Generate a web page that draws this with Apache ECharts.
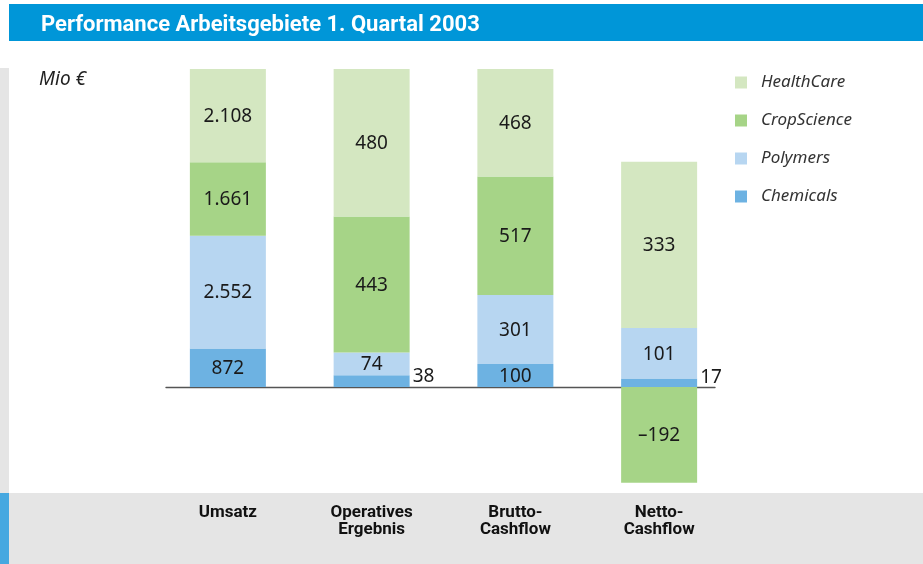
<!DOCTYPE html>
<html>
<head>
<meta charset="utf-8">
<title>Performance Arbeitsgebiete</title>
<script src="https://cdn.jsdelivr.net/npm/echarts@6/dist/echarts.min.js"></script>
<style>
  html, body { margin: 0; padding: 0; background: #fff; }
  #chart { width: 923px; height: 564px; }
</style>
</head>
<body>
<div id="chart"></div>
<script>
// Werte in Mio €
const categories = ['Umsatz', 'Operatives\nErgebnis', 'Brutto-\nCashflow', 'Netto-\nCashflow']
const chemicals = [872, 38, 100, 17]
const polymers = [2552, 74, 301, 101]
const cropScience = [1661, 443, 517, -192]
const healthCare = [2108, 480, 468, 333]
// jede Säule hat im Original ihren eigenen Maßstab (oberer Rand der Skala)
const scaleMax = [7193, 1035, 1386, 637]

const segments = [
  { name: 'Chemicals', data: chemicals, color: '#6db2e2' },
  { name: 'Polymers', data: polymers, color: '#b7d6f1' },
  { name: 'CropScience', data: cropScience, color: '#a6d487' },
  { name: 'HealthCare', data: healthCare, color: '#d4e7c1' }
]

const plotTop = 69
const plotHeight = 414
const belowRatio = 96 / 318 // Anteil unter der Nulllinie

const fmt = v => {
  const s = String(Math.abs(v)).replace(/\B(?=(\d{3})+(?!\d))/g, '.')
  return v < 0 ? '\u2013' + s : s
}

const chart = echarts.init(document.getElementById('chart'))

const grids = []
const xAxes = []
const yAxes = []
const series = []

categories.forEach((cat, i) => {
  grids.push({
    left: 156,
    right: 192,
    top: plotTop,
    height: plotHeight,
    outerBoundsMode: 'none'
  })
  xAxes.push({
    type: 'category',
    gridIndex: i,
    data: categories,
    show: false
  })
  const min = -scaleMax[i] * belowRatio
  yAxes.push({
    type: 'value',
    gridIndex: i,
    show: false,
    min: min,
    max: scaleMax[i],
    splitLine: { show: false }
  })
  segments.forEach(seg => {
    const v = seg.data[i]
    const px = Math.abs(v) / (scaleMax[i] - min) * plotHeight
    const small = px < 18
    series.push({
      name: seg.name,
      type: 'bar',
      stack: 'col' + i,
      xAxisIndex: i,
      yAxisIndex: i,
      barWidth: 76,
      itemStyle: { color: seg.color },
      label: {
        show: true,
        position: small ? 'right' : 'inside',
        distance: 3,
        offset: small ? [0, -5] : [0, 1],
        formatter: p => fmt(p.value),
        fontFamily: 'Noto Sans, sans-serif',
        fontSize: 19,
        color: '#1a1a1a'
      },
      emphasis: { disabled: true },
      data: categories.map((c, k) => (k === i ? v : '-'))
    })
  })
})

// Kategorienbeschriftung unten im grauen Band (eigene Achse am Gitterrand)
xAxes.push({
  type: 'category',
  gridIndex: 0,
  position: 'bottom',
  data: categories,
  axisLine: { show: false, onZero: false },
  axisTick: { show: false },
  axisLabel: {
    show: true,
    margin: 21,
    fontFamily: 'Roboto, sans-serif',
    fontWeight: 'bold',
    fontSize: 17,
    lineHeight: 17,
    color: '#111'
  }
})

// Nulllinie: etwas schmaleres Gitter, gleiche Lage der Null
grids.push({ left: 166, right: 208, top: plotTop, height: plotHeight, outerBoundsMode: 'none' })
xAxes.push({
  type: 'category',
  gridIndex: 4,
  data: categories,
  axisLine: { show: true, onZero: true, lineStyle: { color: '#555', width: 1.4 } },
  axisTick: { show: false },
  axisLabel: { show: false }
})
yAxes.push({ type: 'value', gridIndex: 4, show: false, min: -belowRatio, max: 1, splitLine: { show: false } })

chart.setOption({
  animation: false,
  title: [
    {
      text: 'Performance Arbeitsgebiete 1. Quartal 2003',
      left: 36,
      top: 9,
      textStyle: {
        color: '#fff',
        fontFamily: 'Roboto, sans-serif',
        fontWeight: 'bold',
        fontSize: 22
      }
    },
    {
      text: 'Mio €',
      left: 34,
      top: 65,
      textStyle: {
        color: '#222',
        fontFamily: 'Noto Sans, sans-serif',
        fontStyle: 'italic',
        fontWeight: 'normal',
        fontSize: 19
      }
    }
  ],
  graphic: [
    { type: 'rect', z: -10, shape: { x: 9, y: 4, width: 914, height: 37 }, style: { fill: '#0096d8' } },
    { type: 'rect', z: -10, shape: { x: 0, y: 68, width: 9, height: 425 }, style: { fill: '#e5e5e5' } },
    { type: 'rect', z: -10, shape: { x: 9, y: 493, width: 914, height: 71 }, style: { fill: '#e5e5e5' } },
    { type: 'rect', z: -10, shape: { x: 0, y: 493, width: 9, height: 71 }, style: { fill: '#46a8e0' } }
  ],
  legend: {
    orient: 'vertical',
    left: 730,
    top: 69,
    icon: 'rect',
    itemWidth: 12,
    itemHeight: 12,
    itemGap: 21,
    selectedMode: false,
    data: ['HealthCare', 'CropScience', 'Polymers', 'Chemicals'],
    textStyle: {
      fontFamily: 'Noto Sans, sans-serif',
      fontStyle: 'italic',
      fontSize: 17,
      color: '#333',
      padding: [0, 0, 0, 9]
    }
  },
  grid: grids,
  xAxis: xAxes,
  yAxis: yAxes,
  series: series
})
</script>
</body>
</html>
